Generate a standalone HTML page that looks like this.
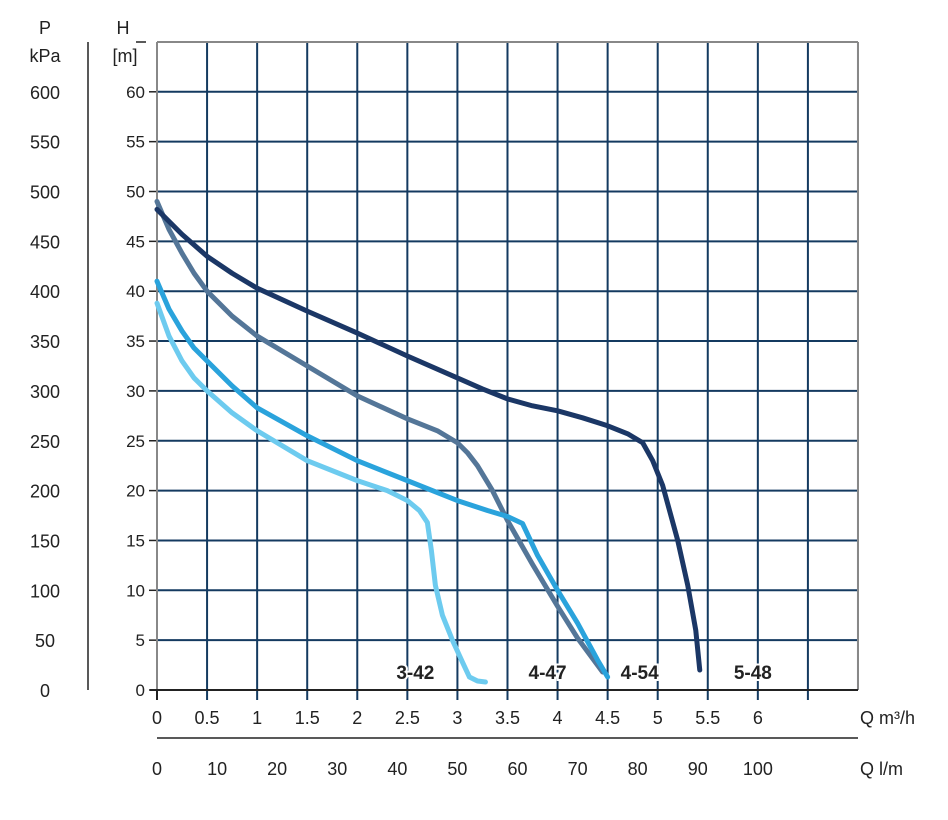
<!DOCTYPE html>
<html><head><meta charset="utf-8"><style>
html,body{margin:0;padding:0;background:#fff;}
svg text{font-family:"Liberation Sans",sans-serif;fill:#222;}
</style></head><body>
<svg id="chart" width="948" height="815" viewBox="0 0 948 815" xmlns="http://www.w3.org/2000/svg">
<g id="grid"></g><g id="axes"></g><g id="labels"></g><g id="series"></g>
</svg>
<script>
const qTicks=[0,0.5,1,1.5,2,2.5,3,3.5,4,4.5,5,5.5,6];
const qTickLabels=["0","0.5","1","1.5","2","2.5","3","3.5","4","4.5","5","5.5","6"];
const lmTicks=[0,10,20,30,40,50,60,70,80,90,100];
const hTicks=[0,5,10,15,20,25,30,35,40,45,50,55,60];
const pLabels=["0","50","100","150","200","250","300","350","400","450","500","550","600"];
const seriesNames=["5-48","4-54","4-47","3-42"];
const seriesColors=["#1b3766","#547698","#2aa3dc","#6dcbef"];
const q548=[0,0.25,0.5,0.75,1,1.5,2,2.5,3,3.25,3.5,3.75,4,4.25,4.5,4.7,4.85,4.95,5.05,5.2,5.3,5.38,5.42];
const h548=[48.2,45.7,43.5,41.8,40.3,38,35.8,33.5,31.3,30.2,29.2,28.5,28,27.3,26.5,25.7,24.8,23,20.5,15,10.5,6,2];
const q454=[0,0.12,0.25,0.37,0.5,0.75,1,1.5,2,2.5,2.8,3,3.1,3.2,3.35,3.5,3.75,4,4.2,4.45];
const h454=[49,46.2,43.8,41.8,40,37.5,35.5,32.5,29.5,27.2,26,24.8,23.8,22.5,20,17,12.6,8.4,5.2,1.8];
const q447=[0,0.12,0.25,0.37,0.5,0.75,1,1.5,2,2.5,3,3.3,3.5,3.65,3.8,4,4.2,4.4,4.5];
const h447=[41,38.2,36,34.3,33,30.5,28.3,25.5,23,21,19,18,17.4,16.7,13.5,10,6.7,3,1.3];
const q342=[0,0.12,0.25,0.37,0.5,0.75,1,1.5,2,2.3,2.5,2.62,2.7,2.74,2.78,2.85,2.95,3.05,3.12,3.2,3.28];
const h342=[38.8,35.5,33,31.3,30,27.8,26,23,21,20,19,18,16.8,14,10.5,7.5,5,2.8,1.3,0.9,0.8];
const labelQ=[5.95,4.82,3.9,2.58];
const NS="http://www.w3.org/2000/svg";
const X=q=>157+q*100.14;
const Y=h=>690-h*9.97;
const XL=l=>X(l*0.06);
function mk(tag,attrs,parent,txt){const e=document.createElementNS(NS,tag);for(const k in attrs)e.setAttribute(k,attrs[k]);if(txt!==undefined)e.textContent=txt;document.getElementById(parent).appendChild(e);return e;}
for(let i=1;i<=14;i++){const q=i*0.5;
 const l=mk('line',{x1:X(q),x2:X(q),y1:42,y2:q<7?700:690,stroke:'#143a60','stroke-width':2},'grid');
 
 }
for(let h=5;h<=65;h+=5){
 const l=mk('line',{x1:157,x2:858,y1:Y(h),y2:Y(h),stroke:'#143a60','stroke-width':2},'grid');
 
 }
let b=mk('line',{x1:157,x2:157,y1:42,y2:690,stroke:'#888','stroke-width':2},'axes');


b=mk('line',{x1:157,x2:858,y1:42,y2:42,stroke:'#888','stroke-width':2},'axes');


b=mk('line',{x1:858,x2:858,y1:42,y2:690,stroke:'#888','stroke-width':2},'axes');


b=mk('line',{x1:150,x2:858,y1:690,y2:690,stroke:'#222','stroke-width':2},'axes');


b=mk('line',{x1:157,x2:157,y1:690,y2:700,stroke:'#222','stroke-width':2},'axes');


b=mk('line',{x1:157,x2:858,y1:738,y2:738,stroke:'#222','stroke-width':1.5},'axes');


b=mk('line',{x1:88,x2:88,y1:42,y2:690,stroke:'#222','stroke-width':1.5},'axes');


b=mk('line',{x1:136,x2:146,y1:42,y2:42,stroke:'#222','stroke-width':1.5},'axes');


hTicks.forEach((h,i)=>{
 const t=mk('text',{x:145,y:Y(h)+6,'text-anchor':'end','font-size':17},'axes',String(h));
 
 
 const d=mk('line',{x1:149,x2:156,y1:Y(h),y2:Y(h),stroke:'#222','stroke-width':1.5},'axes');
 
 
 const p=mk('text',{x:45,y:Y(h)+7,'text-anchor':'middle','font-size':18},'axes',pLabels[i]);
 
 
});
qTicks.forEach((q,i)=>{
 const t=mk('text',{x:X(q),y:724,'text-anchor':'middle','font-size':18},'axes',qTickLabels[i]);
 
 
});
lmTicks.forEach(l=>{
 const t=mk('text',{x:XL(l),y:775,'text-anchor':'middle','font-size':18},'axes',String(l));
 
 
});
const texts=[[45,34,'P','p-axis-title'],[45,62,'kPa','p-axis-unit'],[123,34,'H','h-axis-title'],[125,62,'[m]','h-axis-unit']];
texts.forEach(a=>{const t=mk('text',{x:a[0],y:a[1],'text-anchor':'middle','font-size':18},'axes',a[2]);
 
 });
let t=mk('text',{x:860,y:724,'font-size':18},'axes','Q m³/h');


t=mk('text',{x:860,y:775,'font-size':18},'axes','Q l/m');


seriesNames.forEach((n,i)=>{
 const tt=mk('text',{x:X(labelQ[i]),y:679,'text-anchor':'middle','font-size':19,'font-weight':'bold',stroke:'#fff','stroke-width':4,'paint-order':'stroke'},'labels',n);
 
 
});
const data=[[q548,h548],[q454,h454],[q447,h447],[q342,h342]];
[1,0,2,3].forEach(i=>{
 const pts=data[i][0].map((q,j)=>X(q)+','+Y(data[i][1][j])).join(' ');
 const p=mk('polyline',{points:pts,fill:'none',stroke:seriesColors[i],'stroke-width':5,'stroke-linecap':'round','stroke-linejoin':'round'},'series');
 
 
});
</script>
</body></html>
